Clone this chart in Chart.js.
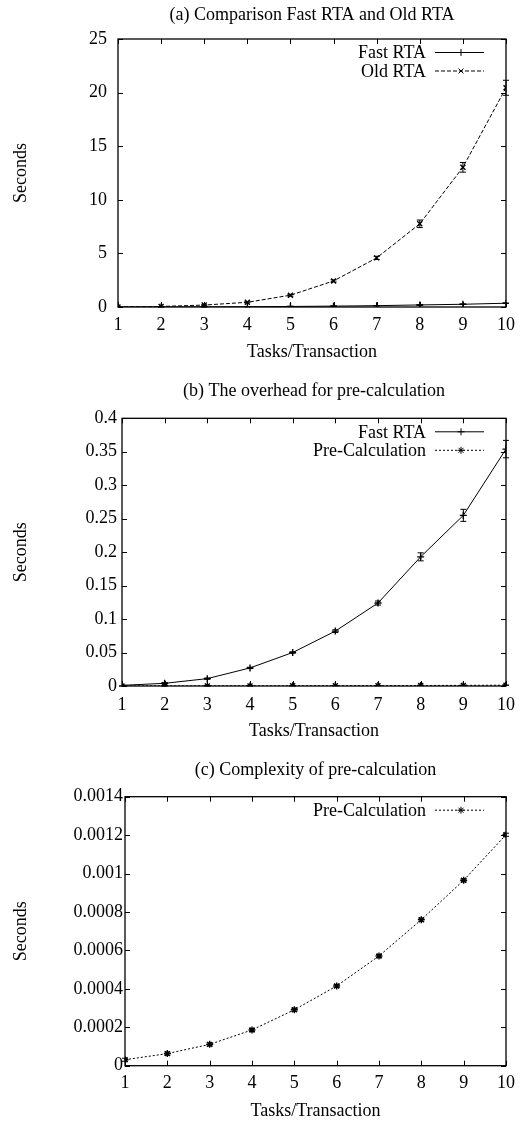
<!DOCTYPE html>
<html>
<head>
<meta charset="utf-8">
<script src="https://cdn.jsdelivr.net/npm/chart.js@4/dist/chart.umd.min.js"></script>
<style>
  body { margin: 0; background: #fff; }
  .panel { position: absolute; left: 0; width: 527px; }
</style>
</head>
<body>
<div class="panel" style="top:0px"><canvas id="graficoA" width="527" height="372"></canvas></div>
<div class="panel" style="top:370px"><canvas id="graficoB" width="527" height="378"></canvas></div>
<div class="panel" style="top:748px"><canvas id="graficoC" width="527" height="376"></canvas></div>
<script>
// Dados
const tarefas = [1, 2, 3, 4, 5, 6, 7, 8, 9, 10];

const fastRta = [0.001, 0.004, 0.011, 0.027, 0.050, 0.082, 0.124, 0.193, 0.255, 0.354];
const fastRtaErr = [0, 0.001, 0.001, 0.001, 0.001, 0.002, 0.003, 0.006, 0.009, 0.013];

const oldRta = [0.01, 0.05, 0.18, 0.44, 1.10, 2.43, 4.58, 7.76, 13.03, 20.45];
const oldRtaErr = [0, 0, 0.03, 0.05, 0.08, 0.10, 0.15, 0.35, 0.45, 0.70];

const preCalc = [0.000031, 0.000063, 0.000111, 0.000186, 0.000291, 0.000415, 0.000571, 0.00076, 0.000965, 0.001202];
const preCalcErr = [0.000008, 0.000008, 0.000008, 0.000008, 0.000008, 0.000008, 0.000008, 0.000008, 0.000008, 0.000008];

const titulos = [
  '(a) Comparison Fast RTA and Old RTA',
  '(b) The overhead for pre-calculation',
  '(c) Complexity of pre-calculation'
];
const tituloX = 'Tasks/Transaction';
const tituloY = 'Seconds';

const FONTE = 'Liberation Serif';
const TAM = 18;

const pontos = arr => tarefas.map((x, i) => ({ x: x, y: arr[i] }));

// Moldura completa, marcas internas, barras de erro e legenda ao estilo gnuplot
const estiloGnuplot = {
  id: 'estiloGnuplot',
  afterDatasetsDraw(chart) {
    const { ctx, chartArea: a, scales } = chart;
    const xs = scales.x, ys = scales.y;
    ctx.save();
    ctx.strokeStyle = '#000';
    ctx.lineWidth = 1;
    ctx.setLineDash([]);

    // barras de erro
    chart.data.datasets.forEach(ds => {
      if (!ds.erros) return;
      ds.data.forEach((p, i) => {
        const e = ds.erros[i];
        if (!e) return;
        const px = xs.getPixelForValue(p.x);
        const y1 = ys.getPixelForValue(p.y - e);
        const y2 = ys.getPixelForValue(p.y + e);
        ctx.beginPath();
        ctx.moveTo(px, y1); ctx.lineTo(px, y2);
        ctx.moveTo(px - 3, y1); ctx.lineTo(px + 3, y1);
        ctx.moveTo(px - 3, y2); ctx.lineTo(px + 3, y2);
        ctx.stroke();
      });
    });

    // moldura
    ctx.lineWidth = 1.3;
    ctx.strokeRect(a.left, a.top, a.right - a.left, a.bottom - a.top);
    ctx.lineWidth = 1;
    ctx.beginPath();
    ys.ticks.forEach(t => {
      const py = Math.round(ys.getPixelForValue(t.value)) + 0.5;
      ctx.moveTo(a.left, py); ctx.lineTo(a.left + 5, py);
      ctx.moveTo(a.right, py); ctx.lineTo(a.right - 5, py);
    });
    xs.ticks.forEach(t => {
      const px = Math.round(xs.getPixelForValue(t.value)) + 0.5;
      ctx.moveTo(px, a.bottom); ctx.lineTo(px, a.bottom - 5);
      ctx.moveTo(px, a.top); ctx.lineTo(px, a.top + 5);
    });
    ctx.stroke();

    // legenda
    ctx.font = TAM + 'px "' + FONTE + '"';
    ctx.fillStyle = '#000';
    ctx.textAlign = 'right';
    ctx.textBaseline = 'middle';
    chart.data.datasets.forEach((ds, i) => {
      const y = a.top + 13.5 + 18.5 * i;
      ctx.fillText(ds.label, a.right - 80, y + 1);
      ctx.setLineDash(ds.borderDash || []);
      ctx.lineWidth = 1;
      ctx.beginPath();
      ctx.moveTo(a.right - 71, y);
      ctx.lineTo(a.right - 22, y);
      ctx.stroke();
      ctx.setLineDash([]);
      Chart.helpers.drawPoint(ctx, {
        pointStyle: ds.pointStyle, radius: ds.pointRadius, borderWidth: 1
      }, a.right - 45, y);
    });
    ctx.restore();
  }
};

function serie(label, valores, erros, estilo, tracejado) {
  return {
    label: label,
    data: pontos(valores),
    erros: erros,
    borderColor: '#000',
    backgroundColor: '#000',
    borderWidth: 1,
    borderDash: tracejado,
    pointStyle: estilo,
    pointRadius: 3.5,
    pointBorderWidth: 1.4,
    tension: 0
  };
}

function criarGrafico(idCanvas, titulo, series, lim, geo) {
  const ctx = document.getElementById(idCanvas).getContext('2d');
  return new Chart(ctx, {
    type: 'line',
    data: { datasets: series },
    options: {
      responsive: false,
      animation: false,
      layout: { padding: { left: 0, right: geo.padRight, top: 0, bottom: 0 } },
      plugins: {
        legend: { display: false },
        tooltip: { enabled: false },
        title: {
          display: true,
          fullSize: false,
          text: titulo,
          color: '#000',
          font: { family: FONTE, size: TAM, weight: 'normal' },
          padding: { top: geo.titleTop, bottom: geo.titleBottom }
        }
      },
      scales: {
        x: {
          type: 'linear',
          min: 1, max: 10,
          grid: { display: false, drawTicks: false },
          border: { display: false },
          ticks: { stepSize: 1, color: '#000', padding: geo.xTickPad,
                   font: { family: FONTE, size: TAM } },
          title: { display: true, text: tituloX, color: '#000',
                   font: { family: FONTE, size: TAM },
                   padding: { top: 0, bottom: geo.xTitlePad } },
          afterFit: s => { s.height = geo.xHeight; }
        },
        y: {
          min: 0, max: lim.max,
          grid: { display: false, drawTicks: false },
          border: { display: false },
          ticks: { stepSize: lim.step, color: '#000', padding: geo.yTickPad,
                   font: { family: FONTE, size: TAM },
                   callback: v => String(Number(v.toFixed(6))) },
          title: { display: true, text: tituloY, color: '#000',
                   font: { family: FONTE, size: TAM },
                   padding: { top: geo.yTitlePad, bottom: 0 } },
          afterFit: s => { s.width = geo.plotLeft; }
        }
      }
    },
    plugins: [estiloGnuplot]
  });
}

window.addEventListener('DOMContentLoaded', () => {
  criarGrafico('graficoA', titulos[0], [
    serie('Fast RTA', fastRta, fastRtaErr, 'cross', []),
    serie('Old RTA', oldRta, oldRtaErr, 'crossRot', [4, 2])
  ], { max: 25, step: 5 }, {
    plotLeft: 118, padRight: 21, titleTop: 4.2, titleBottom: 13.2,
    xHeight: 65, xTickPad: 7.2, xTitlePad: 9.2, yTickPad: 11, yTitlePad: 10.2
  });

  criarGrafico('graficoB', titulos[1], [
    serie('Fast RTA', fastRta, fastRtaErr, 'cross', []),
    serie('Pre-Calculation', preCalc, preCalcErr, 'star', [2, 2])
  ], { max: 0.4, step: 0.05 }, {
    plotLeft: 122, padRight: 21, titleTop: 10.9, titleBottom: 15.8,
    xHeight: 62, xTickPad: 8.2, xTitlePad: 5.5, yTickPad: 5, yTitlePad: 10.2
  });

  criarGrafico('graficoC', titulos[2], [
    serie('Pre-Calculation', preCalc, preCalcErr, 'star', [2, 2])
  ], { max: 0.0014, step: 0.0002 }, {
    plotLeft: 125, padRight: 21, titleTop: 11.9, titleBottom: 15.2,
    xHeight: 58.3, xTickPad: 6.5, xTitlePad: 2.2, yTickPad: 2, yTitlePad: 10.2
  });
});
</script>
</body>
</html>
